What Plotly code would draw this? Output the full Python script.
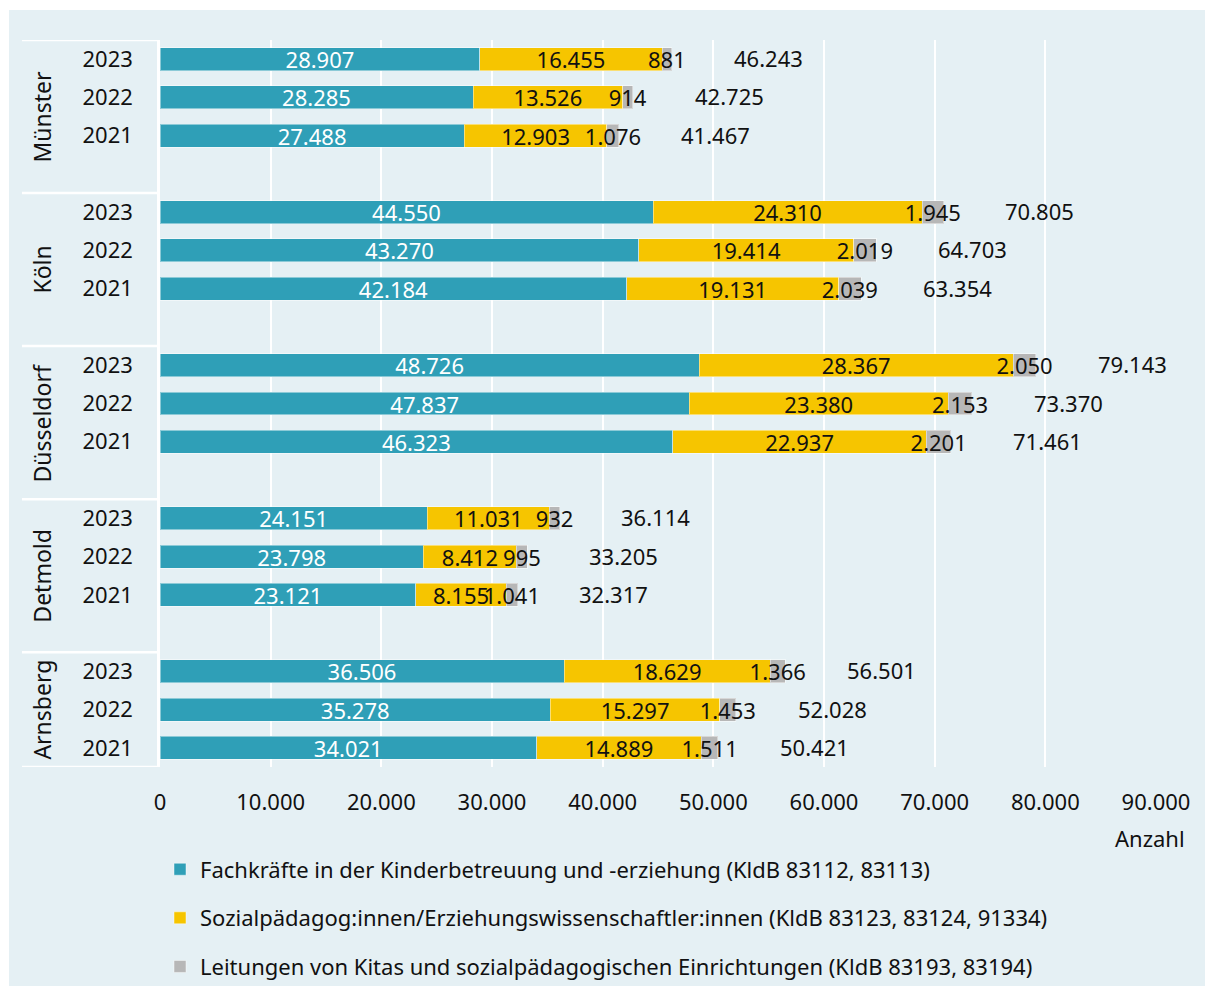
import plotly.graph_objs as go

regions = ['Münster', 'Köln', 'Düsseldorf', 'Detmold', 'Arnsberg']
years = ['2023', '2022', '2021']

# Werte je Region in der Reihenfolge 2023, 2022, 2021
fachkraefte = [[28907, 28285, 27488],
               [44550, 43270, 42184],
               [48726, 47837, 46323],
               [24151, 23798, 23121],
               [36506, 35278, 34021]]
sozialpaed = [[16455, 13526, 12903],
              [24310, 19414, 19131],
              [28367, 23380, 22937],
              [11031, 8412, 8155],
              [18629, 15297, 14889]]
leitungen = [[881, 914, 1076],
             [1945, 2019, 2039],
             [2050, 2153, 2201],
             [932, 995, 1041],
             [1366, 1453, 1511]]

names = ['Fachkräfte in der Kinderbetreuung und -erziehung (KldB 83112, 83113)',
         'Sozialpädagog:innen/Erziehungswissenschaftler:innen (KldB 83123, 83124, 91334)',
         'Leitungen von Kitas und sozialpädagogischen Einrichtungen (KldB 83193, 83194)']
colors = ['#2f9fb7', '#f6c500', '#b7b7b7']
bg = '#e5f0f4'
font = 'Noto Sans'


def fmt(v):
    return '{:,}'.format(v).replace(',', '.')


# je Region 3 Jahre + eine Leerzeile
slot = 4
pos, ticktext = [], []
for g in range(len(regions)):
    for i, yr in enumerate(years):
        pos.append(g * slot + i)
        ticktext.append(yr)

series = [fachkraefte, sozialpaed, leitungen]
flat = [[v for row in s for v in row] for s in series]
totals = [a + b + c for a, b, c in zip(*flat)]

fig = go.Figure()
for k in range(3):
    fig.add_trace(go.Bar(
        x=flat[k], y=pos, orientation='h', name=names[k], legendgroup=str(k),
        marker=dict(color=colors[k], line=dict(color='rgba(255,255,255,0.45)', width=1)),
        width=0.6,
        text=[fmt(v) for v in flat[k]], textposition='inside', textangle=0,
        insidetextanchor='middle', constraintext='none',
        textfont=dict(family=font, size=22, color='white' if k == 0 else '#111111'),
        cliponaxis=False,
    ))

n_slots = len(regions) * slot - 1
shapes = [dict(type='rect', xref='paper', yref='paper', x0=-0.1516, x1=1.0492, y0=-0.3012, y1=1.0413,
               fillcolor=bg, line=dict(width=0), layer='below')]
for g in range(len(regions) + 1):
    yb = g * slot - 0.5 if g < len(regions) else n_slots - 0.5
    shapes.append(dict(type='line', xref='paper', yref='y', x0=-0.1386, x1=0, y0=yb, y1=yb,
                       line=dict(color='white', width=2.5)))

annotations = []
# Summen rechts neben den Balken
for t, p in zip(totals, pos):
    annotations.append(dict(text=fmt(t), x=t + 8700, y=p, xref='x', yref='y', showarrow=False,
                            xanchor='center', yanchor='middle', yshift=1,
                            font=dict(family=font, size=22, color='#111111')))
for g, r in enumerate(regions):
    top = g * slot - 0.5
    bottom = min(top + slot, n_slots - 0.5)
    annotations.append(dict(text=r, xref='paper', yref='y', x=-0.1185, y=(top + bottom) / 2,
                            xanchor='center', yanchor='middle', textangle=-90, showarrow=False,
                            font=dict(family=font, size=23, color='#111111')))
annotations.append(dict(text='Anzahl', xref='paper', yref='paper', x=1.031, y=-0.0977,
                        xanchor='right', yanchor='middle', showarrow=False,
                        font=dict(family=font, size=22, color='#111111')))

fig.update_layout(
    width=1214, height=991,
    margin=dict(l=152, r=66, t=32, b=232),
    paper_bgcolor='white', plot_bgcolor=bg,
    barmode='stack', bargap=0.4,
    separators=',.',
    font=dict(family=font, size=22, color='#111111'),
    xaxis=dict(range=[0, 90000], dtick=10000, tickformat=',', showgrid=True, gridcolor='white',
               gridwidth=2, zeroline=False, showline=False, ticklabelstandoff=20,
               tickfont=dict(size=22), automargin=False),
    yaxis=dict(range=[n_slots - 0.5, -0.5], tickmode='array', tickvals=pos, ticktext=ticktext,
               showgrid=False, zeroline=False, showline=True, linecolor='white', linewidth=2.5,
               ticklabelstandoff=20, tickfont=dict(size=22), automargin=False),
    legend=dict(x=0.0, y=-0.112, xanchor='left', yanchor='top', traceorder='grouped',
                tracegroupgap=17, bgcolor='rgba(0,0,0,0)', font=dict(size=22)),
    shapes=shapes, annotations=annotations,
    showlegend=True,
)

fig.write_html('out.html')
